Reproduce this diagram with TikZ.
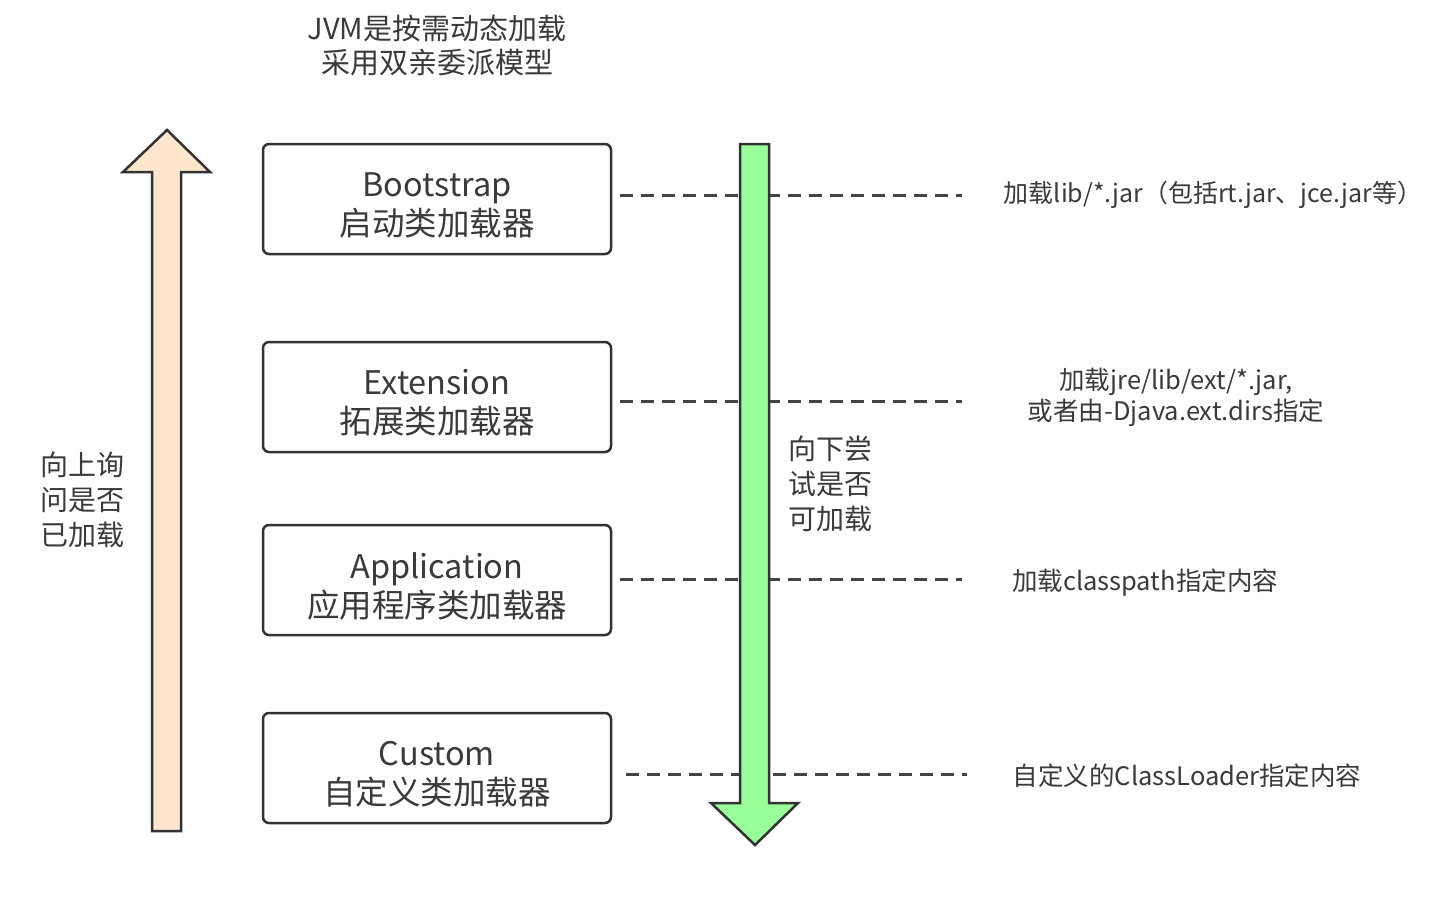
\documentclass[tikz,border=0pt]{standalone}
\usepackage{fontspec}
\setmainfont{Noto Sans CJK SC}
\definecolor{ink}{HTML}{333333}
\definecolor{txt}{HTML}{3A3A3A}
\definecolor{peach}{HTML}{FFE6CC}
\definecolor{lgreen}{HTML}{99FF99}
\definecolor{dash}{HTML}{444444}
\tikzset{
  loader/.style={draw=ink, line width=2.5pt, rounded corners=6pt, fill=white,
    minimum width=348pt, minimum height=110pt, inner sep=0pt},
  loadertext/.style={align=center, inner sep=0pt, text=txt, font=\fontsize{32.5}{39}\selectfont},
  note/.style={text=txt, align=center, inner sep=0pt, font=\fontsize{25.5}{31}\selectfont},
  side/.style={text=txt, align=left, inner sep=0pt, font=\fontsize{28}{35}\selectfont},
  guide/.style={draw=dash, line width=3pt, dash pattern=on 13pt off 8pt},
  bigarrow/.style={draw=ink, line width=2.5pt, line join=miter}
}
\begin{document}
\begin{tikzpicture}[x=1pt,y=-1pt]
\useasboundingbox[fill=white] (0,0) rectangle (1442,908);

% title
\node[text=txt, align=center, inner sep=0pt, font=\fontsize{29}{34}\selectfont] (title) at (437,45) {JVM是按需动态加载\\采用双亲委派模型};

% boxes
\node[loader] (b1) at (437,199) {};
\node[loader] (b2) at (437,397) {};
\node[loader] (b3) at (437,580) {};
\node[loader] (b4) at (437,768) {};
\node[loadertext] (t1) at ([yshift=-6pt]b1.center) {Bootstrap\\启动类加载器};
\node[loadertext] (t2) at ([yshift=-6pt]b2.center) {Extension\\拓展类加载器};
\node[loadertext] (t3) at ([yshift=-6pt]b3.center) {Application\\应用程序类加载器};
\node[loadertext] (t4) at ([yshift=-6pt]b4.center) {Custom\\自定义类加载器};

% notes
\node[note, font=\fontsize{25}{31}\selectfont] (n1) at (1213,195) {加载lib/*.jar（包括rt.jar、jce.jar等）};
\node[note] (n2) at (1176,397) {加载jre/lib/ext/*.jar,\\或者由-Djava.ext.dirs指定};
\node[note] (n3) at (1145,583) {加载classpath指定内容};
\node[note] (n4) at (1187,776) {自定义的ClassLoader指定内容};

% dashed guides
\coordinate (s1) at (620,195); \coordinate (e1) at (962,195);
\coordinate (s2) at (620,401); \coordinate (e2) at (962,401);
\coordinate (s3) at (620,579); \coordinate (e3) at (962,579);
\coordinate (s4) at (626,774); \coordinate (e4) at (967,774);
\draw[guide] (s1) -- (e1);
\draw[guide] (s2) -- (e2);
\draw[guide] (s3) -- (e3);
\draw[guide] (s4) -- (e4);

% up arrow
\draw[bigarrow, fill=peach] (152,831) -- (152,172) -- (123,172) -- (167,130) -- (210,172) -- (181,172) -- (181,831) -- cycle;
% down arrow
\draw[bigarrow, fill=lgreen] (740,144) -- (769,144) -- (769,803) -- (798,803) -- (755,845) -- (711,803) -- (740,803) -- cycle;

% side labels
\node[side] (up) at (82,500) {向上询\\问是否\\已加载};
\node[side] (down) at (830,484) {向下尝\\试是否\\可加载};
\end{tikzpicture}
\end{document}
